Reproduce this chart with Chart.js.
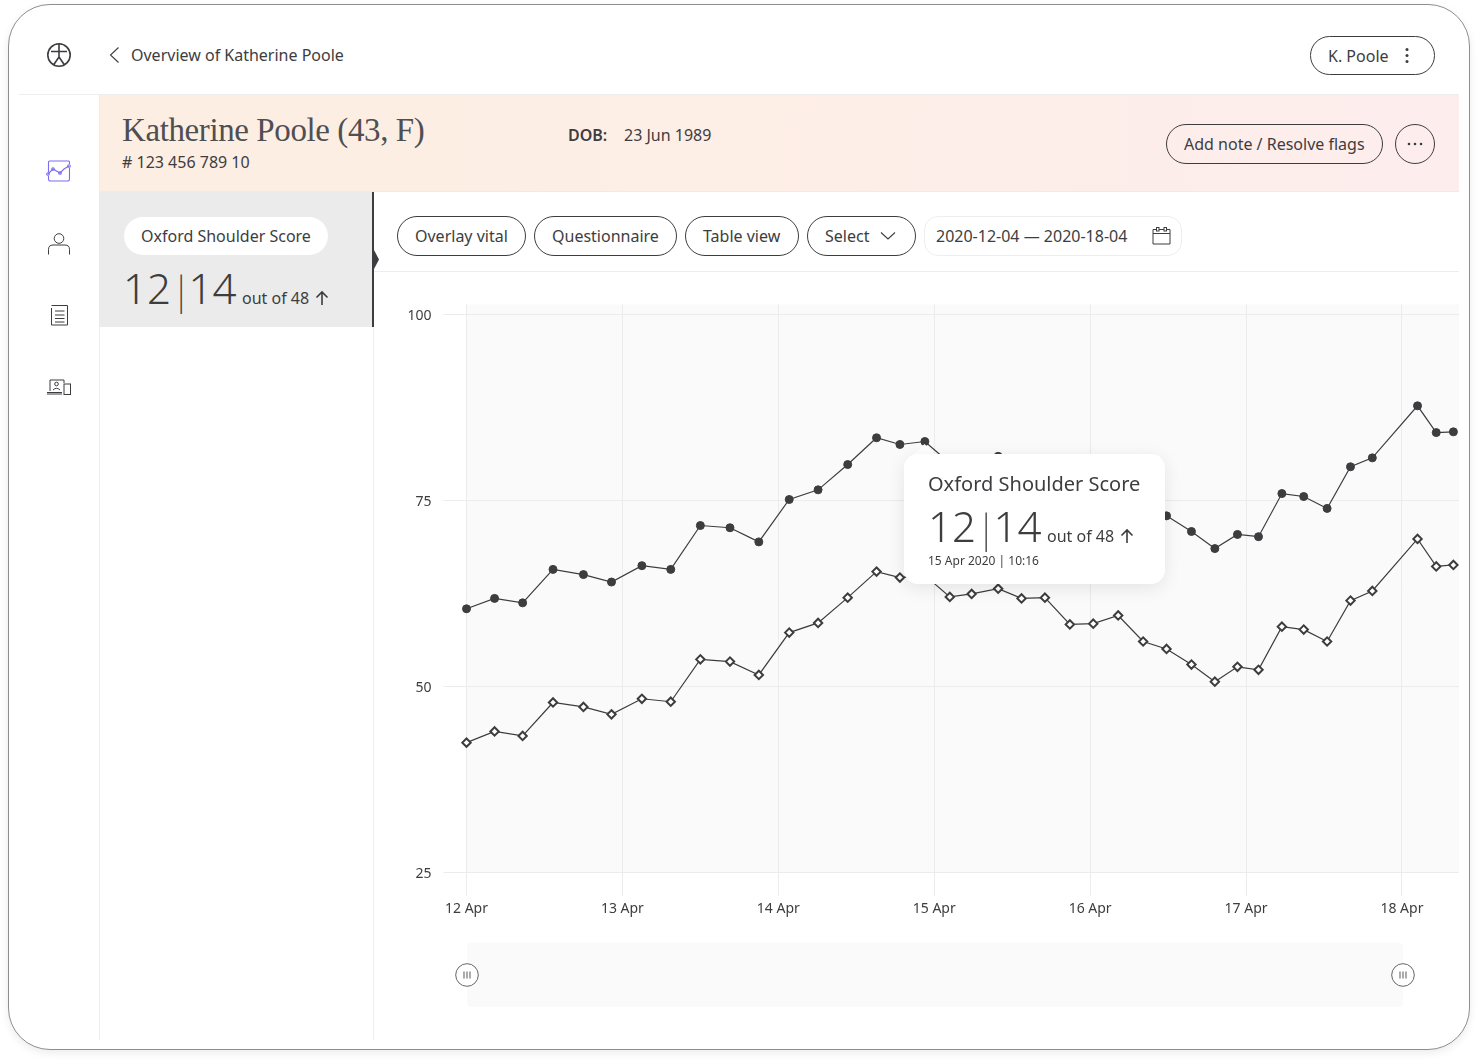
<!DOCTYPE html>
<html>
<head>
<meta charset="utf-8">
<title>Overview of Katherine Poole</title>
<script src="https://cdn.jsdelivr.net/npm/chart.js@4"></script>
<style>
  html, body { margin: 0; padding: 0; background: #fff; }
  body { width: 1478px; height: 1062px; position: relative; overflow: hidden;
         font-family: 'Noto Sans', sans-serif; font-size: 16px; color: #3d3d40; }
  .abs { position: absolute; white-space: nowrap; }
  .frame { left: 8px; top: 4px; width: 1460px; height: 1044px; border: 1.5px solid #8e8e8e;
           border-radius: 42px; box-shadow: 0 3px 8px rgba(0,0,0,.08); background: #fff; }
  .hline { position: absolute; height: 1px; background: #ededed; }
  .vline { position: absolute; width: 1px; background: #ededed; }
  .pill { position: absolute; box-sizing: border-box; border: 1px solid #3d3d40; border-radius: 21px;
          height: 40px; line-height: 38px; padding-left: 17px; white-space: nowrap; }
  .big { font-weight: 300; font-size: 42px; line-height: 60px; }
  .big span { font-weight: 200; font-size: 38px; letter-spacing: -3px; }
</style>
</head>
<body>
<div class="abs frame"></div>

<!-- top bar -->
<svg class="abs" style="left:46px;top:42px" width="26" height="26" viewBox="0 0 26 26" fill="none" stroke="#3d3d40" stroke-width="1.6">
  <circle cx="13" cy="13" r="11.2"/>
  <path d="M5 9.500H21M13 2V15M13 15L7.500 23M13 15L18.500 23"/>
</svg>
<svg class="abs" style="left:108px;top:46px" width="14" height="18" viewBox="0 0 14 18" fill="none" stroke="#3d3d40" stroke-width="1.1"><path d="M10.5 1.5L2.5 9L10.5 16.5"/></svg>
<div class="abs" style="left:131px;top:44px">Overview of Katherine Poole</div>
<div class="pill" style="left:1310px;top:36px;width:125px;height:39px">K. Poole</div>
<svg class="abs" style="left:1403px;top:46px" width="8" height="20"><g fill="#3d3d40"><circle cx="4" cy="3.5" r="1.5"/><circle cx="4" cy="9.5" r="1.5"/><circle cx="4" cy="15.5" r="1.5"/></g></svg>
<div class="hline" style="left:19px;top:94px;width:1440px"></div>

<!-- patient banner -->
<div class="abs" style="left:99px;top:95px;width:1360px;height:96px;background:linear-gradient(95deg,#fdeee3 0%,#fdeee6 45%,#fdeded 100%);border-bottom:1px solid #f1ebe8"></div>
<div class="abs" style="left:122px;top:110px;font-family:'Liberation Serif',serif;font-size:33px;line-height:40px;letter-spacing:-.4px;color:#4f4f52">Katherine Poole (43, F)</div>
<div class="abs" style="left:122px;top:151px"># 123 456 789 10</div>
<div class="abs" style="left:568px;top:124px;font-weight:600">DOB:</div>
<div class="abs" style="left:624px;top:124px">23 Jun 1989</div>
<div class="pill" style="left:1166px;top:124px;width:217px">Add note / Resolve flags</div>
<div class="pill" style="left:1395px;top:124px;width:40px;padding:0"></div>
<svg class="abs" style="left:1405px;top:139px" width="20" height="10"><g fill="#3d3d40"><circle cx="4" cy="5" r="1.3"/><circle cx="10" cy="5" r="1.3"/><circle cx="16" cy="5" r="1.3"/></g></svg>

<!-- left icons -->
<svg class="abs" style="left:46px;top:159px" width="26" height="24" viewBox="0 0 26 24" fill="none" stroke="#7a6cf0" stroke-width="1.1">
  <path d="M2.500 13V3Q2.500 2 3.500 2H22.500Q23.500 2 23.500 3V5M23.500 9V20Q23.500 22 22 22H4Q2.500 22 2.500 20V17"/>
  <path d="M2 15L7 10L14 14L18 10L23 7"/>
  <circle cx="2" cy="15" r="1.3"/><circle cx="7" cy="10" r="1.3"/><circle cx="14" cy="14" r="1.3"/><circle cx="23" cy="7" r="1.3"/>
</svg>
<svg class="abs" style="left:47px;top:232px" width="24" height="24" viewBox="0 0 24 24" fill="none" stroke="#3d3d40" stroke-width="1">
  <circle cx="12" cy="6.500" r="4.800"/><path d="M1.500 22.500V17.500Q1.500 13 6 13H18Q22.500 13 22.500 17.500V22.500"/>
</svg>
<svg class="abs" style="left:50px;top:304px" width="20" height="22" viewBox="0 0 20 22" fill="none" stroke="#3d3d40" stroke-width="1">
  <path d="M1.500 1.500H17.500V21H1.500V4M5 7H14.500M5 11H14.500M5 14.500H14.500M5 18H14.500"/>
</svg>
<svg class="abs" style="left:46px;top:378px" width="26" height="18" viewBox="0 0 26 18" fill="none" stroke="#3d3d40" stroke-width="1">
  <path d="M4 13V2H18V5M1 14.500H16M1 16H16"/><rect x="18" y="6" width="6.500" height="10.500"/><circle cx="10.500" cy="6" r="1.800"/><path d="M7 12Q10.500 8.500 14 12"/>
</svg>
<div class="vline" style="left:99px;top:95px;height:945px"></div>

<!-- score card -->
<div class="abs" style="left:99px;top:192px;width:273px;height:135px;background:#ebebeb;border-right:2px solid #3d3d40"></div>
<svg class="abs" style="left:374px;top:250px" width="6" height="20"><path d="M0 0L5 9.500L0 19Z" fill="#3d3d40"/></svg>
<div class="abs" style="left:124px;top:217px;width:204px;height:38px;border-radius:19px;background:#fff;line-height:38px;text-indent:17px">Oxford Shoulder Score</div>
<div class="abs big" style="left:123px;top:258px">12<span>|</span>14</div>
<div class="abs" style="left:242px;top:287px">out of 48</div>
<svg class="abs" style="left:314px;top:290px" width="16" height="16" viewBox="0 0 16 16" fill="none" stroke="#3d3d40" stroke-width="1.6"><path d="M8 15V2M2.500 7.500L8 2L13.500 7.500"/></svg>
<div class="vline" style="left:373px;top:327px;height:713px"></div>

<!-- filter row -->
<div class="pill" style="left:397px;top:216px;width:129px">Overlay vital</div>
<div class="pill" style="left:534px;top:216px;width:143px">Questionnaire</div>
<div class="pill" style="left:685px;top:216px;width:114px">Table view</div>
<div class="pill" style="left:807px;top:216px;width:109px">Select</div>
<svg class="abs" style="left:880px;top:231px" width="16" height="10" fill="none" stroke="#3d3d40" stroke-width="1.1"><path d="M1 1.500L8 8L15 1.500"/></svg>
<div class="abs" style="left:924px;top:216px;width:258px;height:40px;box-sizing:border-box;border:1px solid #eeeeee;border-radius:14px;line-height:38px;text-indent:11px">2020-12-04 — 2020-18-04</div>
<svg class="abs" style="left:1152px;top:226px" width="19" height="20" viewBox="0 0 19 20" fill="none" stroke="#3d3d40" stroke-width="1">
  <path d="M1 3.500H18M1 3.500V18H18V3.500M1 7.500H18"/><rect x="4.500" y="1.500" width="2.500" height="3.500" fill="#fff"/><rect x="12" y="1.500" width="2.500" height="3.500" fill="#fff"/>
</svg>
<div class="hline" style="left:374px;top:271px;width:1085px"></div>

<!-- chart -->
<canvas id="scoreChart" class="abs" style="left:400px;top:284px"></canvas>

<!-- range slider -->
<div class="abs" style="left:467px;top:943px;width:936px;height:64px;background:#fafafa;border-radius:4px"></div>
<svg class="abs" style="left:455px;top:963px" width="24" height="24" fill="#fff" stroke="#666" stroke-width="1"><circle cx="12" cy="12" r="11.300"/><path d="M9 8.500V15.500M12 8.500V15.500M15 8.500V15.500" stroke="#888" stroke-width="1.400"/></svg>
<svg class="abs" style="left:1391px;top:963px" width="24" height="24" fill="#fff" stroke="#666" stroke-width="1"><circle cx="12" cy="12" r="11.300"/><path d="M9 8.500V15.500M12 8.500V15.500M15 8.500V15.500" stroke="#888" stroke-width="1.400"/></svg>

<!-- pinned tooltip -->
<div class="abs" style="left:917px;top:447px;width:15px;height:15px;background:#fff;transform:rotate(45deg)"></div>
<div class="abs" style="left:904px;top:454px;width:261px;height:130px;background:#fff;border-radius:14px;box-shadow:0 4px 18px rgba(0,0,0,.09)">
  <div class="abs" style="left:24px;top:15px;font-size:20px;line-height:30px">Oxford Shoulder Score</div>
  <div class="abs big" style="left:24px;top:42px">12<span>|</span>14</div>
  <div class="abs" style="left:143px;top:71px">out of 48</div>
  <svg class="abs" style="left:215px;top:74px" width="16" height="16" viewBox="0 0 16 16" fill="none" stroke="#3d3d40" stroke-width="1.6"><path d="M8 15V2M2.500 7.500L8 2L13.500 7.500"/></svg>
  <div class="abs" style="left:24px;top:98px;font-size:12px;line-height:17px">15 Apr 2020 | 10:16</div>
</div>

<script>
const dayLabels = ['12 Apr', '13 Apr', '14 Apr', '15 Apr', '16 Apr', '17 Apr', '18 Apr'];
const yTicks = [25, 50, 75, 100];

// days since 12 Apr
const readingDays = [
    0, 0.18, 0.36, 0.555, 0.75, 0.93, 1.125, 1.31, 1.5, 1.69, 1.875, 2.07, 2.255,
    2.445, 2.63, 2.78, 2.94, 3.1, 3.24, 3.41, 3.56, 3.71, 3.87, 4.02, 4.18, 4.34,
    4.49, 4.65, 4.8, 4.945, 5.08, 5.23, 5.37, 5.52, 5.67, 5.81, 6.1, 6.22, 6.33
];
const upperScores = [
    60.4, 61.8, 61.2, 65.7, 65.0, 64.0, 66.2, 65.7, 71.6, 71.3, 69.4, 75.1, 76.4,
    79.8, 83.4, 82.5, 82.9, 80.0, 80.4, 80.9, 79.8, 79.9, 76.3, 76.4, 77.5, 74.0,
    72.9, 70.8, 68.5, 70.4, 70.1, 75.9, 75.5, 73.9, 79.5, 80.7, 87.7, 84.1, 84.2
];
const lowerScores = [
    42.4, 43.9, 43.3, 47.8, 47.2, 46.2, 48.3, 47.9, 53.6, 53.3, 51.5, 57.2, 58.5,
    61.9, 65.4, 64.6, 64.9, 62.0, 62.4, 63.1, 61.8, 61.9, 58.3, 58.4, 59.5, 56.0,
    55.0, 52.9, 50.6, 52.6, 52.2, 58.0, 57.6, 56.0, 61.5, 62.8, 69.8, 66.1, 66.3
];

const ink = '#3d3d40';
const gridColor = '#ececec';

const plotBackground = {
    id: 'plotBackground',
    beforeDraw(chart) {
        const area = chart.chartArea;
        chart.ctx.save();
        chart.ctx.fillStyle = '#fafafa';
        chart.ctx.fillRect(area.left, area.top, area.right - area.left, area.bottom - area.top);
        chart.ctx.restore();
    }
};

function toPoints(values) {
    return values.map((v, i) => ({ x: readingDays[i], y: v }));
}

const canvas = document.getElementById('scoreChart');
canvas.width = 1059;
canvas.height = 636;

new Chart(canvas, {
    type: 'line',
    data: {
        datasets: [
            {
                label: 'Upper',
                data: toPoints(upperScores),
                borderColor: ink,
                borderWidth: 1.2,
                pointStyle: 'circle',
                pointRadius: 4,
                pointBackgroundColor: ink,
                pointBorderColor: ink,
                pointBorderWidth: 1,
                clip: { left: 10, right: 0, top: 0, bottom: 0 },
                tension: 0
            },
            {
                label: 'Lower',
                data: toPoints(lowerScores),
                borderColor: ink,
                borderWidth: 1.2,
                pointStyle: 'rectRot',
                pointRadius: 4.2,
                pointBackgroundColor: '#ffffff',
                pointBorderColor: ink,
                pointBorderWidth: 2,
                clip: { left: 10, right: 0, top: 0, bottom: 0 },
                tension: 0
            }
        ]
    },
    options: {
        responsive: false,
        animation: false,
        layout: { autoPadding: false, padding: { top: 4 } },
        plugins: { legend: { display: false }, tooltip: { enabled: false } },
        scales: {
            x: {
                type: 'linear',
                min: 0,
                max: 6.366,
                afterFit: scale => { scale.height = 48; },
                border: { display: false },
                grid: { color: gridColor, tickLength: 24 },
                ticks: {
                    stepSize: 1,
                    includeBounds: false,
                    autoSkip: false,
                    maxRotation: 0,
                    padding: 5,
                    color: ink,
                    font: { family: 'Noto Sans', size: 14 },
                    callback: value => dayLabels[value]
                }
            },
            y: {
                min: yTicks[0],
                max: 101.34,
                afterFit: scale => { scale.width = 66.5; },
                border: { display: false },
                grid: { color: gridColor, tickLength: 23 },
                ticks: {
                    stepSize: 25,
                    includeBounds: false,
                    padding: 12,
                    labelOffset: 2,
                    color: ink,
                    font: { family: 'Noto Sans', size: 14 }
                }
            }
        }
    },
    plugins: [plotBackground]
});
</script>
</body>
</html>
